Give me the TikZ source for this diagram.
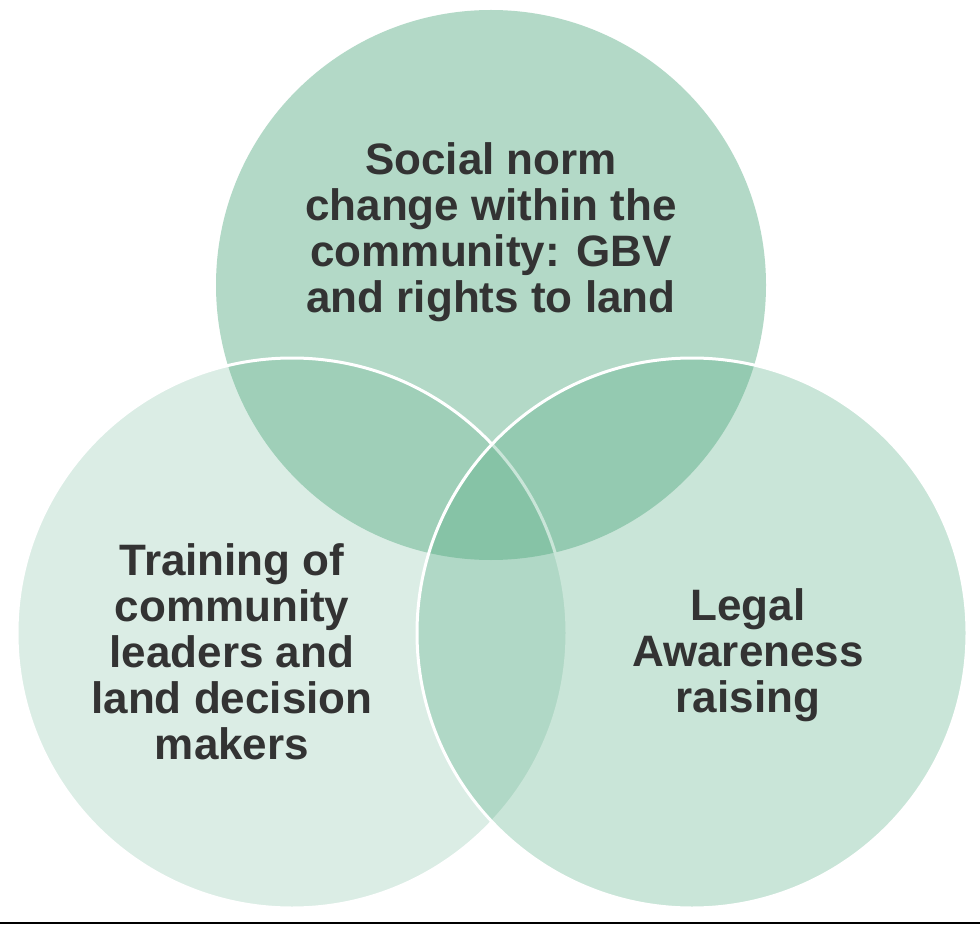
\documentclass[tikz,border=0pt]{standalone}
\usepackage{fontspec}
\setmainfont{Liberation Sans}
\begin{document}
\begin{tikzpicture}[x=1pt,y=-1pt,
  lab/.style={align=center, font=\fontsize{44}{46}\selectfont\bfseries, text=black!80}]
\useasboundingbox (0,0) rectangle (980,925);
\fill[white] (0,0) rectangle (980,925);
\definecolor{base}{HTML}{4FA97F}
\fill[base, fill opacity=0.43] (491,285) circle (275);
\draw[fill=base, fill opacity=0.2, draw=white, line width=3pt] (292,633) circle (275);
\draw[fill=base, fill opacity=0.3, draw=white, line width=3pt] (692,633) circle (275);
\draw[black, line width=1.5pt] (0,923) -- (980,923);
\node[lab] (t) at (491,232) {Social norm\\change within the\\community: GBV\\and rights to land};
\node[lab] (l) at (232,652) {Training of\\community\\leaders and\\land decision\\makers};
\node[lab] (r) at (748,655) {Legal\\Awareness\\raising};
\end{tikzpicture}
\end{document}
